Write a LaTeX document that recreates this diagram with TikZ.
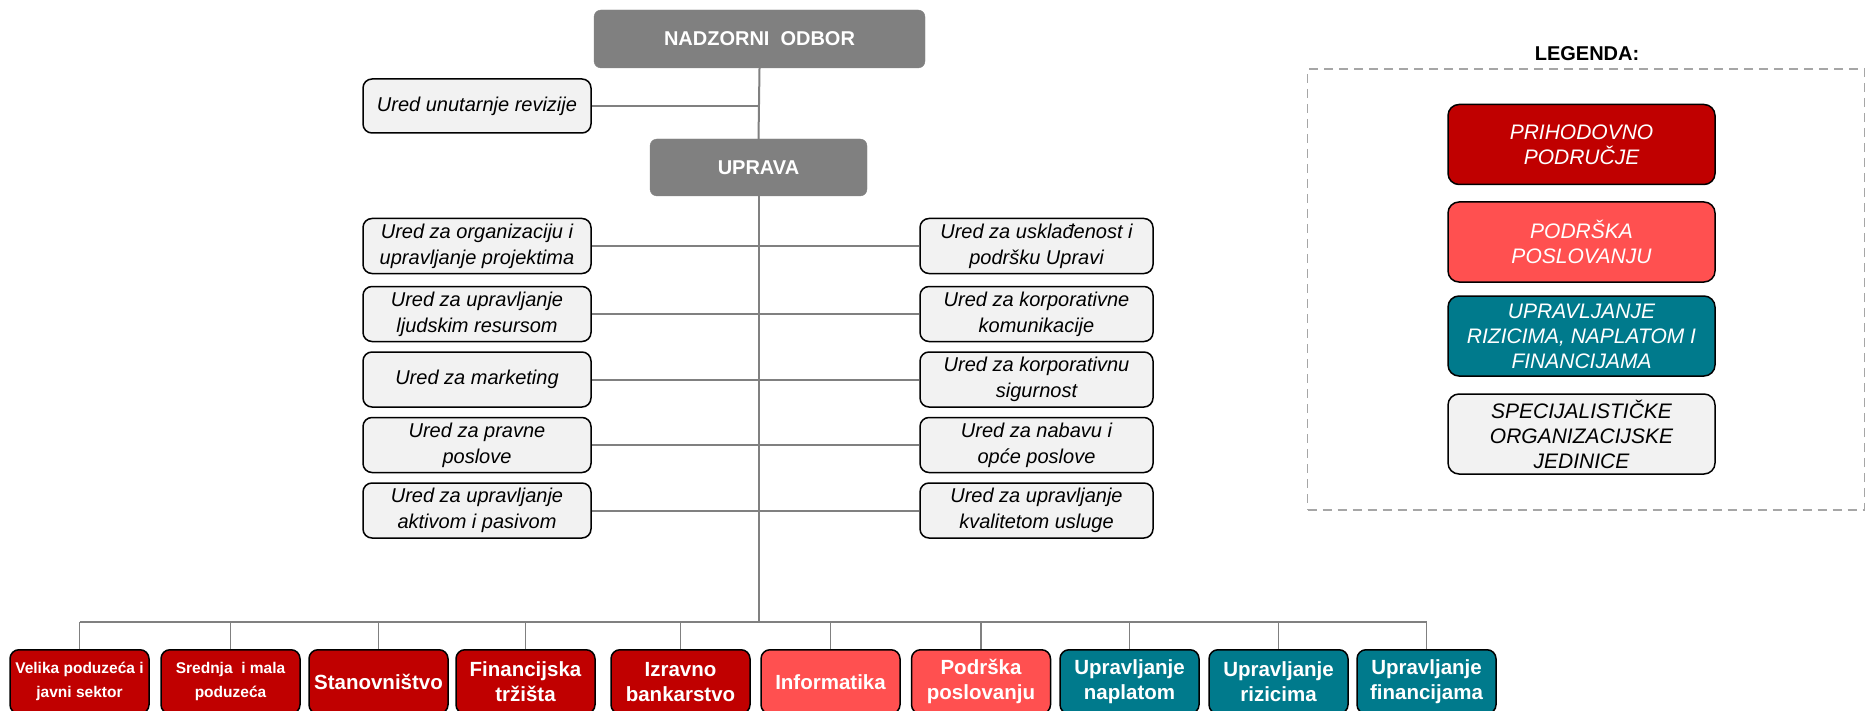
\documentclass[tikz,border=0pt]{standalone}
\usepackage{fontspec}
\setmainfont{Liberation Sans}
\definecolor{revred}{RGB}{192,0,0}
\definecolor{supred}{RGB}{255,80,80}
\definecolor{tealb}{RGB}{0,122,140}
\definecolor{offfill}{RGB}{242,242,242}
\definecolor{hdrgray}{RGB}{128,128,128}
\definecolor{linegray}{RGB}{128,128,128}
\definecolor{dashgray}{RGB}{166,166,166}
\tikzset{
  hdr/.style={rectangle, rounded corners=7pt, fill=hdrgray, draw=hdrgray, text=white,
    font=\bfseries\fontsize{20}{24}\selectfont, inner sep=0pt},
  office/.style={rectangle, rounded corners=9pt, fill=offfill, draw=black, line width=1.5pt,
    font=\itshape\fontsize{20}{26}\selectfont, align=center, inner sep=0pt, minimum height=55pt},
  unitbox/.style={rectangle, rounded corners=9pt, draw=black, line width=1.5pt, text=white,
    font=\bfseries\fontsize{20.5}{25}\selectfont, align=center, inner sep=0pt,
    minimum width=139pt, minimum height=64pt, anchor=north},
  smallunit/.style={font=\bfseries\fontsize{15.5}{24}\selectfont},
  legbox/.style={rectangle, rounded corners=11pt, draw=black, line width=1.5pt, text=white,
    font=\itshape\fontsize{21}{25}\selectfont, align=center, inner sep=0pt,
    minimum width=267pt, minimum height=80pt},
  conn/.style={draw=linegray, line width=2pt},
}
\begin{document}
\begin{tikzpicture}[x=1pt,y=-1pt]
\clip (0,0) rectangle (1867,711);
\useasboundingbox (0,0) rectangle (1867,711);

% top
\node[hdr, minimum width=331pt, minimum height=58pt] (nadzor) at (759.5,39) {NADZORNI\hspace{0.55em}ODBOR};
\node[office, minimum width=228pt, minimum height=54pt] (rev) at (477,106) {Ured unutarnje revizije};
\node[hdr, minimum width=217pt, minimum height=57pt] (uprava) at (758.5,167.5) {UPRAVA};

% offices
\node[office, minimum width=228pt] (l1) at (477,246) {Ured za organizaciju i\\upravljanje projektima};
\node[office, minimum width=228pt] (l2) at (477,314) {Ured za upravljanje\\ljudskim resursom};
\node[office, minimum width=228pt] (l3) at (477,379.5) {Ured za marketing};
\node[office, minimum width=228pt] (l4) at (477,445) {Ured za pravne\\poslove};
\node[office, minimum width=228pt] (l5) at (477,510.5) {Ured za upravljanje\\aktivom i pasivom};
\node[office, minimum width=233pt] (r1) at (1036.5,246) {Ured za usklađenost i\\podršku Upravi};
\node[office, minimum width=233pt] (r2) at (1036.5,314) {Ured za korporativne\\komunikacije};
\node[office, minimum width=233pt] (r3) at (1036.5,379.5) {Ured za korporativnu\\sigurnost};
\node[office, minimum width=233pt] (r4) at (1036.5,445) {Ured za nabavu i\\opće poslove};
\node[office, minimum width=233pt] (r5) at (1036.5,510.5) {Ured za upravljanje\\kvalitetom usluge};

% bottom units
\node[unitbox, smallunit, fill=revred] (u1) at (79.5,649) {Velika poduzeća i\\javni sektor};
\node[unitbox, smallunit, fill=revred] (u2) at (230.5,649) {Srednja\ \ i mala\\poduzeća};
\node[unitbox, fill=revred] (u3) at (378.5,649) {Stanovništvo};
\node[unitbox, fill=revred] (u4) at (525.5,649) {Financijska\\tržišta};
\node[unitbox, fill=revred] (u5) at (680.5,649) {Izravno\\bankarstvo};
\node[unitbox, fill=supred] (u6) at (830.5,649) {Informatika};
\node[unitbox, fill=supred] (u7) at (981,649) {Podrška\\poslovanju};
\node[unitbox, fill=tealb] (u8) at (1129.5,649) {Upravljanje\\naplatom};
\node[unitbox, fill=tealb] (u9) at (1278.5,649) {Upravljanje\\rizicima};
\node[unitbox, fill=tealb] (u10) at (1426.5,649) {Upravljanje\\financijama};

% connectors
\coordinate (bus) at (0,622);
\draw[conn] (nadzor.south) -- (uprava.north);
\draw[conn] (rev.east) -- (rev.east -| nadzor.south);
\draw[conn] (uprava.south) -- (uprava.south |- bus);
\foreach \i in {1,...,5} {\draw[conn] (l\i.east) -- (r\i.west);}
\draw[conn, line width=2.5pt] (u1.north |- bus) -- (u10.north |- bus);
\foreach \i in {1,...,10} {\draw[conn, line width=1.6pt] (u\i.north) -- (u\i.north |- bus);}

% legend
\node[font=\bfseries\fontsize{20}{24}\selectfont] (legt) at (1587,54) {LEGENDA:};
\node[draw=dashgray, line width=1.5pt, dash pattern=on 9pt off 6pt, rectangle, inner sep=0pt,
  minimum width=557pt, minimum height=441pt] (legframe) at (1586,289.5) {};
\node[legbox, fill=revred] (lg1) at (1581.5,144.5) {PRIHODOVNO\\PODRUČJE};
\node[legbox, fill=supred] (lg2) at (1581.5,242) {PODRŠKA\\POSLOVANJU};
\node[legbox, fill=tealb] (lg3) at (1581.5,336) {UPRAVLJANJE\\RIZICIMA, NAPLATOM I\\FINANCIJAMA};
\node[legbox, fill=offfill, text=black] (lg4) at (1581.5,434) {SPECIJALISTIČKE\\ORGANIZACIJSKE\\JEDINICE};
\end{tikzpicture}
\end{document}
